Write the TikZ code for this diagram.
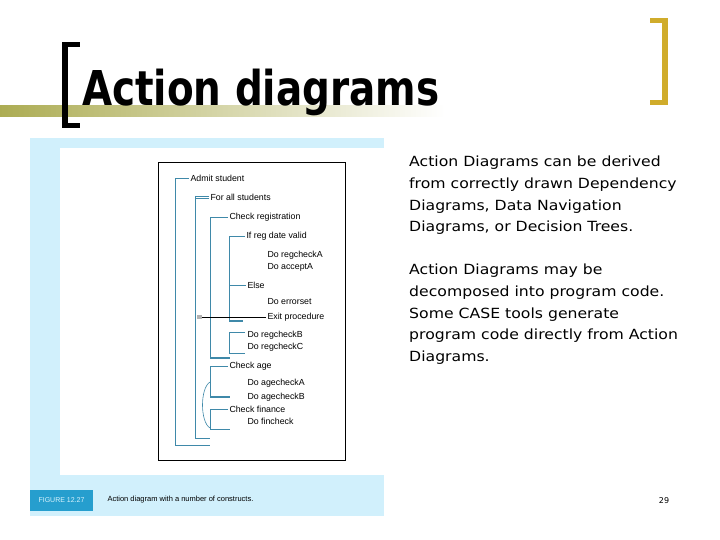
\documentclass[tikz,border=0pt]{standalone}
\usepackage{fontspec}
\setmainfont{DejaVu Sans}
\newfontfamily\arl{Liberation Sans}
\begin{document}
\begin{tikzpicture}[x=1pt,y=-1pt,
  ln/.style={draw=cyan!60!teal!80!black,line width=0.9pt},
  tk/.style={draw=cyan!60!teal!80!black,line width=2pt},
  lab/.style={anchor=west,inner sep=0pt,outer sep=1.5pt,font=\arl\fontsize{8.8}{9}\selectfont},
  body/.style={anchor=north west,inner sep=0pt,align=left,xscale=1.12,font=\fontsize{14}{21.6}\selectfont}]
\useasboundingbox (0,0) rectangle (720,540);
\fill[white] (0,0) rectangle (720,540);
% title decoration
\shade[left color=black!30!olive!50, right color=white] (0,106) rectangle (445,117);
\fill[black] (62,42) rectangle (68,128);
\fill[black] (62,42) rectangle (80,47);
\fill[black] (62,123) rectangle (80,128);
\fill[yellow!60!orange!80!black] (650,18) rectangle (667,23);
\fill[yellow!60!orange!80!black] (662,18) rectangle (668,105);
\fill[yellow!60!orange!80!black] (650,100) rectangle (667,105);
\node[anchor=base west,inner sep=0pt,xscale=0.81,font=\bfseries\fontsize{48}{50}\selectfont] (title) at (82,106) {Action diagrams};
% figure panel
\fill[cyan!18] (30,138) rectangle (384,516);
\fill[white] (60,148) rectangle (384,475);
\draw[black,line width=0.8pt] (158,162) rectangle (345,460);
\node[fill=cyan!65!teal,minimum width=63pt,minimum height=21pt,inner sep=0pt,text=white!85!cyan,font=\arl\fontsize{7}{8}\selectfont] (fig) at (61.5,500.5) {FIGURE 12.27};
\node[lab,font=\arl\fontsize{7.5}{8}\selectfont] (cap) at (106,500) {Action diagram with a number of constructs.};
% action diagram
\node[lab] (a) at (189,178) {Admit student};
\draw[ln] (a.west) -- (175,178) -- (175,445) -- (210,445);
\node[lab] (b) at (209,197) {For all students};
\draw[ln] (b.west) ++(0,-1) -- (195,196); \draw[ln] (b.west) ++(0,1) -- (195,198);
\draw[ln] (195,196) -- (195,438) -- (210,438);
\node[lab] (c) at (228,217) {Check registration};
\draw[ln] (c.west) -- (210,217) -- (210,358); \draw[tk] (210,358) -- (230,358);
\node[lab] (d) at (245,236) {If reg date valid};
\draw[ln] (d.west) -- (229,236) -- (229,321); \draw[tk] (229,321) -- (243,321);
\node[lab] (e1) at (266,255) {Do regcheckA};
\node[lab] (e2) at (266,267) {Do acceptA};
\node[lab] (f) at (246,285) {Else};
\draw[ln] (f.west) -- (229,285);
\node[lab] (g1) at (266,302) {Do errorset};
\node[lab] (g2) at (266,317) {Exit procedure};
\draw[black,line width=0.6pt] (g2.west) -- (202,317);
\fill[gray!60] (197,315) rectangle (202,319);
\node[lab] (h1) at (246,335) {Do regcheckB};
\node[lab] (h2) at (246,347) {Do regcheckC};
\draw[ln] (245,332) -- (229,332) -- (229,353) -- (245,353);
\node[lab] (i) at (228,366) {Check age};
\draw[ln] (i.west) -- (210,366) -- (210,397); \draw[tk] (210,397) -- (230,397);
\node[lab] (i1) at (246,383) {Do agecheckA};
\node[lab] (i2) at (246,397) {Do agecheckB};
\draw[ln,line width=0.6pt] (210,382) .. controls (200,388) and (200,422) .. (210,428);
\node[lab] (j) at (228,409) {Check finance};
\draw[ln] (j.west) -- (210,409) -- (210,429) -- (230,429);
\node[lab] (j1) at (246,421) {Do fincheck};
% body text
\node[body] (t1) at (409,156) {Action Diagrams can be derived\\from correctly drawn Dependency\\Diagrams, Data Navigation\\Diagrams, or Decision Trees.};
\node[body] (t2) at (409,264) {Action Diagrams may be\\decomposed into program code.\\Some CASE tools generate\\program code directly from Action\\Diagrams.};
\node[inner sep=0pt,font=\fontsize{8}{9}\selectfont] (pg) at (664,501) {29};
\end{tikzpicture}
\end{document}
